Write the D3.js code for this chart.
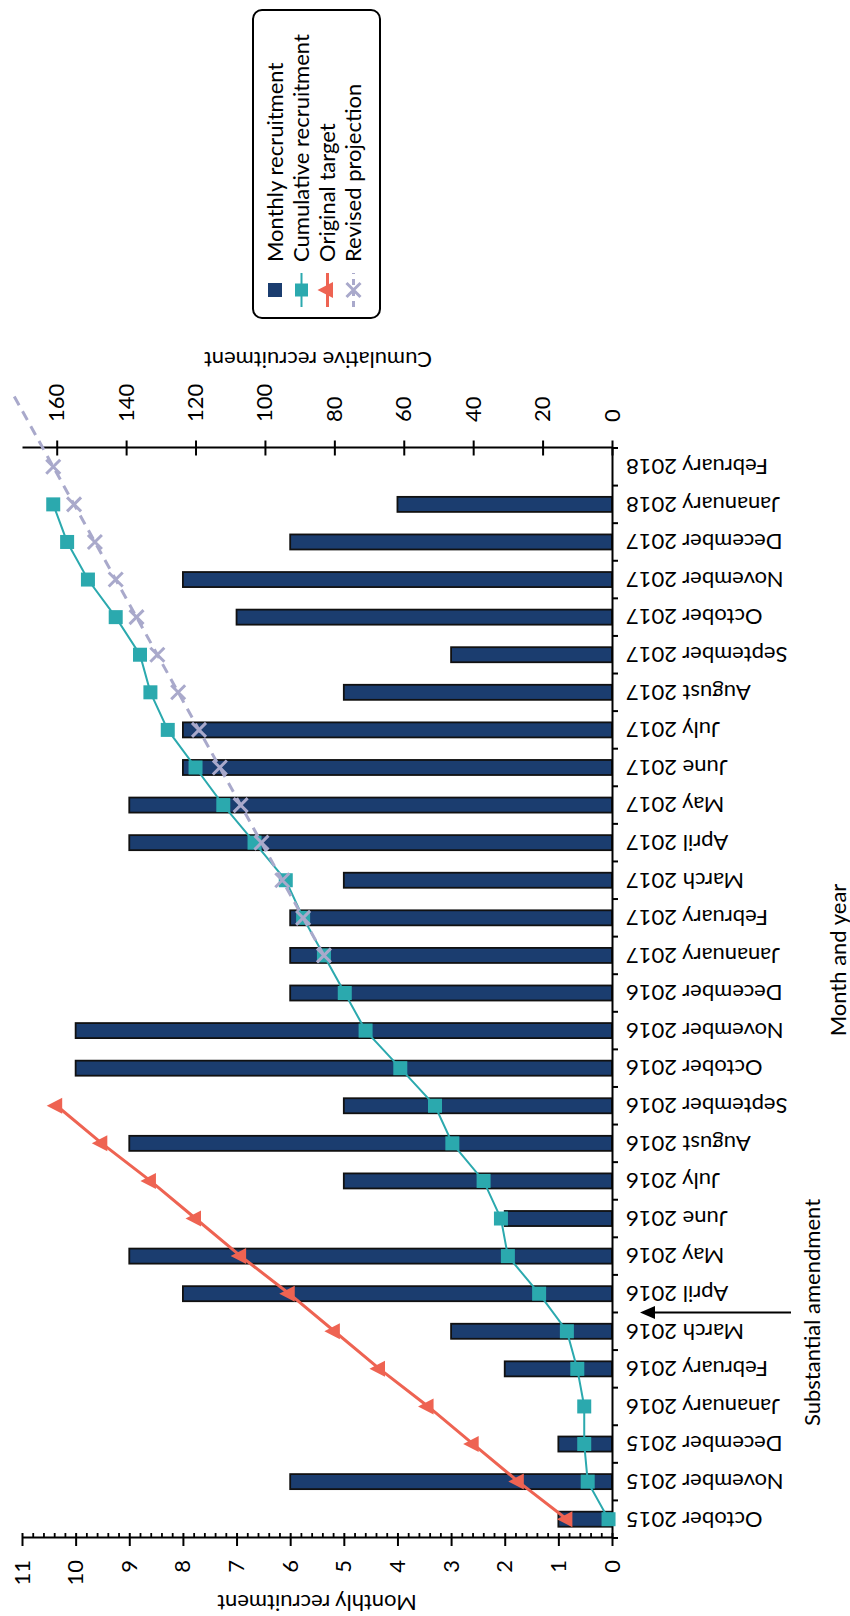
<!DOCTYPE html>
<html><head><meta charset="utf-8">
<script src="https://cdn.jsdelivr.net/npm/d3@7"></script>
<style>
html,body{margin:0;padding:0;background:#fff;}
svg text{font-family:Lato,"Noto Sans",sans-serif;fill:#000;}
</style></head>
<body>
<svg id="chart" width="850" height="1616"></svg>
<script>
// ---- data ----
const months = ["October 2015","November 2015","December 2015","Jananuary 2016","February 2016","March 2016","April 2016","May 2016","June 2016","July 2016","August 2016","September 2016","October 2016","November 2016","December 2016","Jananuary 2017","February 2017","March 2017","April 2017","May 2017","June 2017","July 2017","August 2017","September 2017","October 2017","November 2017","December 2017","Jananuary 2018","February 2018"];
const extraMonths = ["March 2018","April 2018"];
const monthly = [1,6,1,null,2,3,8,9,2,5,9,5,10,10,6,6,6,5,9,9,8,8,5,3,7,8,6,4,null];
const cumulativeMonths = months.slice(0,28);
const cumulative = [1,7,8,8,10,13,21,30,32,37,46,51,61,71,77,83,89,94,103,112,120,128,133,136,143,151,157,161];
const targetMonths = months.slice(0,12);
const target = [13,27,40,53,67,80,93,107,120,133,147,160];
const projectionMonths = ["Jananuary 2017","February 2017","March 2017","April 2017","May 2017","June 2017","July 2017","August 2017","September 2017","October 2017","November 2017","December 2017","Jananuary 2018","February 2018","March 2018","April 2018"];
const projection = [83,89,95,101,107,113,119,125,131,137,143,149,155,161,167,173];
const monthlyTicks = [0,1,2,3,4,5,6,7,8,9,10,11];
const cumulativeTicks = [0,20,40,60,80,100,120,140,160];
const legendLabels = ["Monthly recruitment","Cumulative recruitment","Original target","Revised projection"];

// ---- colours ----
const NAVY = "#1b3d6f", TEAL = "#2ba9ae", RED = "#ee6352", LAV = "#a9a9cb";

const svg = d3.select("#chart");
// whole chart drawn in a landscape frame (1616 x 850) then rotated
const g = svg.append("g").attr("transform","translate(0,1616) rotate(-90)");

const X0 = 78, X1 = 1168, Y0 = 612, YT = 22;
const xb = d3.scaleBand().domain(months).range([X0,X1]).paddingInner(0.6).paddingOuter(0.3);
const allMonths = months.concat(extraMonths);
const xi = d3.scaleLinear().domain([0, months.length]).range([X0,X1]);
const xc = m => xi(allMonths.indexOf(m) + 0.5);
const y1 = d3.scaleLinear().domain([0,11]).range([Y0,YT]);
const y2 = d3.scaleLinear().domain([0,170]).range([Y0,YT]);
const FS = 22;

// bars
g.append("g").selectAll("rect").data(months.map((m,i)=>({m,v:monthly[i]})).filter(d=>d.v!=null))
 .join("rect")
 .attr("x", d=>xb(d.m)).attr("width", xb.bandwidth())
 .attr("y", d=>y1(d.v)).attr("height", d=>Y0-y1(d.v))
 .attr("fill", NAVY).attr("stroke","#111").attr("stroke-width",1.8);

// left axis (monthly)
const ax1 = g.append("g").attr("transform",`translate(${X0},0)`)
 .call(d3.axisLeft(y1).tickValues(monthlyTicks).tickSize(8).tickSizeOuter(0).tickPadding(14).tickFormat(d3.format("d")));
ax1.selectAll(".tick line").attr("x1",5).attr("stroke","#000").attr("stroke-width",2);
ax1.select(".domain").attr("stroke","#000").attr("stroke-width",2);
ax1.selectAll("text").attr("font-size",FS);
const minor = d3.range(0,55).map(k=>k*0.2).filter(v=>Math.abs(v-Math.round(v))>1e-6);
const axm = g.append("g").attr("transform",`translate(${X0},0)`)
 .call(d3.axisLeft(y1).tickValues(minor).tickSize(-5).tickSizeOuter(0).tickFormat(""));
axm.select(".domain").remove();
axm.selectAll(".tick line").attr("stroke","#000").attr("stroke-width",1.8);

// right axis (cumulative)
const ax2 = g.append("g").attr("transform",`translate(${X1},0)`)
 .call(d3.axisRight(y2).tickValues(cumulativeTicks).tickSize(7.5).tickSizeOuter(0).tickPadding(18.5));
ax2.selectAll(".tick line").attr("x1",-7.5).attr("stroke","#000").attr("stroke-width",2);
ax2.select(".domain").attr("stroke","#000").attr("stroke-width",2);
ax2.selectAll("text").attr("font-size",FS);

// bottom axis (months)
const ax3 = g.append("g").attr("transform",`translate(0,${Y0})`)
 .call(d3.axisBottom(xb).tickSize(0).tickSizeOuter(0).tickFormat(""));
ax3.select(".domain").attr("stroke","#000").attr("stroke-width",2);
g.append("g").selectAll("line").data(d3.range(0, months.length+1)).join("line")
 .attr("x1", k=>xi(k)).attr("x2", k=>xi(k)).attr("y1", Y0).attr("y2", Y0+6)
 .attr("stroke","#000").attr("stroke-width",2);
g.append("g").selectAll("text").data(months).join("text")
 .attr("transform", m=>`translate(${xb(m)+xb.bandwidth()/2},${Y0+14}) rotate(-90)`)
 .attr("text-anchor","end").attr("dy","0.35em").attr("font-size",FS).text(m=>m);

// axis titles
g.append("text").attr("transform",`translate(21,${(Y0+YT)/2}) rotate(-90)`)
 .attr("text-anchor","middle").attr("font-size",FS).text("Monthly recruitment");
g.append("text").attr("transform",`translate(1264,${(Y0+YT)/2+1}) rotate(-90)`)
 .attr("text-anchor","middle").attr("font-size",FS).text("Cumulative recruitment");
g.append("text").attr("x",656).attr("y",846).attr("text-anchor","middle").attr("font-size",FS).text("Month and year");

// substantial amendment annotation
const ax = xi(months.indexOf("April 2016"));
g.append("line").attr("x1",ax).attr("x2",ax).attr("y1",791).attr("y2",653).attr("stroke","#000").attr("stroke-width",2);
g.append("path").attr("d",`M${ax},640 L${ax-6.5},655 L${ax+6.5},655 Z`).attr("fill","#000");
g.append("text").attr("x",ax).attr("y",820).attr("text-anchor","middle").attr("font-size",FS).text("Substantial amendment");

// cumulative line
const line = d3.line().x(d=>xc(d.m)).y(d=>y2(d.v));
const cumData = cumulativeMonths.map((m,i)=>({m,v:cumulative[i]}));
g.append("path").datum(cumData).attr("d",line).attr("fill","none").attr("stroke",TEAL).attr("stroke-width",2);
g.append("g").selectAll("rect").data(cumData).join("rect")
 .attr("x",d=>xc(d.m)-7).attr("y",d=>y2(d.v)-7).attr("width",14).attr("height",14).attr("fill",TEAL);

// original target
const tData = targetMonths.map((m,i)=>({m,v:target[i]}));
g.append("path").datum(tData).attr("d",line).attr("fill","none").attr("stroke",RED).attr("stroke-width",3);
const tri = "M0,-10 L8,5.5 L-8,5.5 Z";
g.append("g").selectAll("path").data(tData).join("path")
 .attr("transform",d=>`translate(${xc(d.m)},${y2(d.v)})`).attr("d",tri).attr("fill",RED);

// revised projection
const pData = projectionMonths.map((m,i)=>({m,v:projection[i]}));
g.append("path").datum(pData).attr("d",line).attr("fill","none").attr("stroke",LAV).attr("stroke-width",3).attr("stroke-dasharray","10,7");
const cross = "M-7,-7 L7,7 M-7,7 L7,-7";
g.append("g").selectAll("path").data(pData.filter(d=>months.includes(d.m))).join("path")
 .attr("transform",d=>`translate(${xc(d.m)},${y2(d.v)})`).attr("d",cross).attr("fill","none").attr("stroke",LAV).attr("stroke-width",3);

// legend
const lg = g.append("g");
lg.append("rect").attr("x",1298).attr("y",253).attr("width",308).attr("height",127).attr("rx",9)
 .attr("fill","#fff").attr("stroke","#000").attr("stroke-width",2);
const rowY = [275,301.5,327.5,353.5];
const sx = 1326;
lg.selectAll("text").data(legendLabels).join("text")
 .attr("x",1354).attr("y",(d,i)=>rowY[i]+7.5).attr("font-size",FS).text(d=>d);
lg.append("rect").attr("x",sx-7).attr("y",rowY[0]-7).attr("width",14).attr("height",14).attr("fill",NAVY);
lg.append("line").attr("x1",sx-17).attr("x2",sx+17).attr("y1",rowY[1]).attr("y2",rowY[1]).attr("stroke",TEAL).attr("stroke-width",2);
lg.append("rect").attr("x",sx-6.5).attr("y",rowY[1]-6.5).attr("width",13).attr("height",13).attr("fill",TEAL);
lg.append("line").attr("x1",sx-17).attr("x2",sx+17).attr("y1",rowY[2]).attr("y2",rowY[2]).attr("stroke",RED).attr("stroke-width",3);
lg.append("path").attr("transform",`translate(${sx},${rowY[2]})`).attr("d",tri).attr("fill",RED);
lg.append("line").attr("x1",sx-17).attr("x2",sx+17).attr("y1",rowY[3]).attr("y2",rowY[3]).attr("stroke",LAV).attr("stroke-width",3).attr("stroke-dasharray","6,5");
lg.append("path").attr("transform",`translate(${sx},${rowY[3]})`).attr("d",cross).attr("fill","none").attr("stroke",LAV).attr("stroke-width",3);
</script>
</body></html>
